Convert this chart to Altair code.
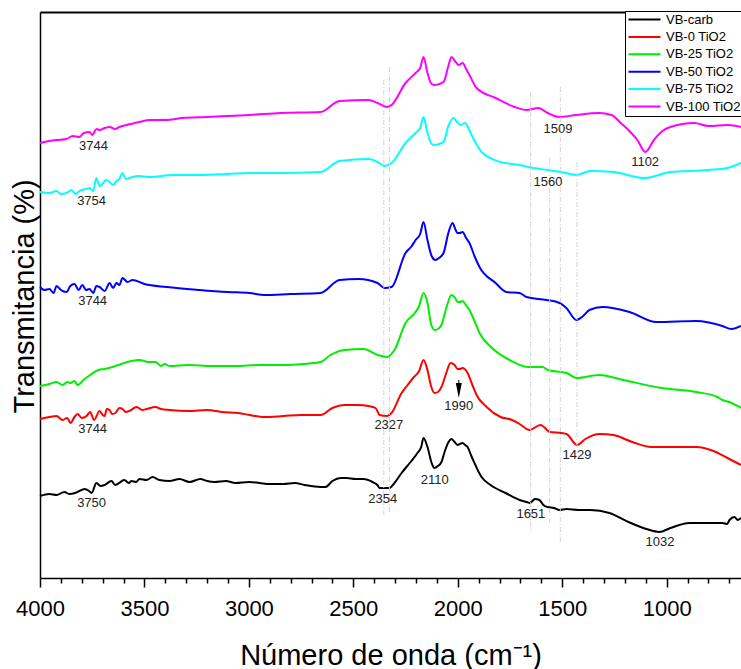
import altair as alt
import pandas as pd

series = ["VB-carb", "VB-0 TiO2", "VB-25 TiO2", "VB-50 TiO2", "VB-75 TiO2", "VB-100 TiO2"]
colors = ["#000000", "#ff0000", "#00ee00", "#0000ff", "#00ffff", "#ff00ff"]

carb_wn = [4000, 3955, 3921, 3883, 3860, 3832, 3801, 3787, 3765, 3753, 3730, 3710, 3691, 3658, 3640, 3629,
           3596, 3575, 3562, 3540, 3524, 3490, 3461, 3428, 3380, 3332, 3284, 3232, 3200, 3165, 3110, 3064,
           3000, 2949, 2900, 2834, 2780, 2733, 2657, 2633, 2600, 2560, 2533, 2490, 2451, 2408, 2385, 2374,
           2327, 2303, 2269, 2226, 2193, 2175, 2164, 2145, 2125, 2112, 2095, 2078, 2060, 2044, 2030, 2015,
           2001, 1990, 1977, 1965, 1953, 1935, 1920, 1900, 1886, 1843, 1771, 1704, 1670, 1655, 1630, 1609,
           1590, 1570, 1540, 1513, 1479, 1420, 1365, 1274, 1183, 1097, 1035, 982, 891, 800, 733, 710,
           699, 675, 660, 644]
carb_t = [82, 84, 83, 86, 84, 85, 88, 89, 87, 85, 95, 92, 93, 97, 93, 94,
          98, 95, 97, 96, 99, 98, 101, 98, 97, 99, 96, 99, 97, 96, 97, 95,
          96, 95, 94, 94, 95, 93, 91, 91, 97, 100, 100, 99, 99, 96, 93, 90,
          90, 95, 105, 116, 125, 131, 140, 131, 115, 110, 112, 116, 128, 136, 139, 136,
          133, 134, 135, 133, 131, 122, 115, 106, 101, 93, 85, 78, 76, 75, 79, 78,
          73, 71, 70, 68, 69, 68, 68, 65, 56, 49, 46, 50, 55, 55, 55, 54,
          58, 61, 58, 60]

tio0_wn = [4000, 3955, 3921, 3892, 3870, 3854, 3835, 3820, 3800, 3777, 3760, 3741, 3715, 3700, 3691, 3680,
           3667, 3655, 3639, 3620, 3605, 3590, 3572, 3538, 3510, 3490, 3447, 3420, 3380, 3289, 3200, 3131,
           3050, 2997, 2925, 2834, 2750, 2657, 2600, 2542, 2480, 2427, 2394, 2374, 2339, 2317, 2269, 2240,
           2214, 2185, 2164, 2145, 2128, 2111, 2095, 2078, 2055, 2035, 2015, 2001, 1990, 1977, 1953, 1930,
           1910, 1862, 1795, 1740, 1704, 1657, 1604, 1558, 1503, 1479, 1429, 1389, 1322, 1255, 1164, 1073,
           982, 857, 776, 709, 644]
tio0_t = [159, 161, 162, 158, 160, 155, 161, 164, 160, 162, 166, 158, 167, 163, 162, 169,
          168, 164, 165, 170, 169, 166, 167, 171, 168, 169, 171, 169, 168, 167, 168, 166,
          165, 163, 161, 162, 163, 163, 170, 173, 173, 172, 170, 163, 162, 165, 185, 193,
          200, 207, 218, 208, 192, 185, 186, 191, 205, 215, 213, 209, 209, 210, 205, 193,
          183, 171, 161, 158, 154, 148, 153, 146, 145, 144, 133, 139, 144, 143, 136, 131,
          131, 131, 127, 120, 113]

tio25_wn = [4000, 3955, 3921, 3892, 3870, 3854, 3835, 3820, 3787, 3760, 3720, 3690, 3653, 3610, 3562, 3524,
            3480, 3447, 3420, 3404, 3380, 3289, 3180, 3064, 2950, 2834, 2740, 2657, 2609, 2542, 2451, 2384,
            2339, 2303, 2250, 2202, 2185, 2164, 2145, 2128, 2111, 2095, 2078, 2055, 2030, 2012, 2001, 1990,
            1977, 1965, 1944, 1920, 1896, 1841, 1752, 1661, 1594, 1570, 1479, 1432, 1322, 1207, 1025, 857,
            757, 733, 700, 644]
tio25_t = [192, 194, 196, 193, 196, 195, 197, 193, 199, 203, 208, 209, 211, 214, 217, 218,
           216, 216, 212, 214, 212, 213, 212, 212, 213, 213, 214, 216, 223, 228, 229, 223,
           221, 228, 255, 266, 272, 285, 275, 254, 248, 249, 253, 270, 283, 280, 276, 276,
           277, 274, 268, 257, 245, 231, 218, 211, 211, 208, 205, 200, 203, 198, 190, 186,
           181, 178, 176, 170]

tio50_wn = [4000, 3980, 3955, 3935, 3921, 3900, 3873, 3855, 3835, 3815, 3797, 3780, 3763, 3745, 3730, 3715,
            3690, 3667, 3650, 3634, 3620, 3605, 3581, 3557, 3500, 3394, 3236, 3100, 2997, 2925, 2800, 2657,
            2566, 2475, 2384, 2351, 2317, 2250, 2220, 2202, 2180, 2164, 2145, 2125, 2107, 2090, 2068, 2045,
            2025, 2010, 2001, 1990, 1977, 1960, 1944, 1920, 1896, 1819, 1767, 1704, 1671, 1575, 1513, 1480,
            1432, 1400, 1370, 1307, 1178, 1049, 857, 733, 690, 644]
tio50_t = [291, 288, 289, 285, 292, 288, 286, 292, 294, 288, 293, 288, 289, 285, 292, 291,
           287, 295, 290, 295, 293, 300, 296, 298, 294, 291, 288, 286, 285, 283, 284, 285,
           298, 299, 295, 290, 291, 325, 332, 338, 344, 356, 338, 322, 318, 320, 325, 345,
           355, 348, 345, 345, 346, 340, 335, 322, 311, 295, 286, 285, 281, 278, 275, 270,
           258, 262, 268, 271, 266, 256, 257, 252, 249, 252]

tio75_wn = [4000, 3955, 3921, 3900, 3873, 3849, 3830, 3811, 3780, 3763, 3745, 3730, 3715, 3701, 3685, 3667,
            3650, 3634, 3620, 3605, 3590, 3572, 3530, 3476, 3360, 3236, 3100, 2997, 2850, 2657, 2566, 2427,
            2384, 2351, 2317, 2250, 2202, 2180, 2164, 2145, 2125, 2111, 2090, 2068, 2045, 2020, 2000, 1987,
            1965, 1945, 1929, 1886, 1795, 1704, 1637, 1570, 1503, 1432, 1365, 1255, 1106, 982, 800, 709,
            644]
tio75_t = [386, 385, 387, 384, 385, 388, 384, 387, 389, 390, 387, 400, 392, 394, 398, 396,
           393, 397, 399, 405, 399, 400, 402, 401, 403, 403, 404, 405, 405, 406, 417, 419,
           416, 412, 415, 435, 445, 450, 461, 445, 434, 433, 434, 436, 452, 460, 455, 453,
           455, 448, 441, 426, 416, 413, 410, 408, 406, 403, 407, 406, 400, 406, 408, 410,
           415]

tio100_wn = [4000, 3955, 3921, 3873, 3844, 3811, 3790, 3763, 3749, 3730, 3715, 3690, 3667, 3640, 3620, 3586,
             3524, 3476, 3400, 3318, 3200, 3100, 2997, 2850, 2657, 2566, 2427, 2384, 2339, 2317, 2250, 2202,
             2180, 2164, 2145, 2125, 2111, 2090, 2068, 2045, 2030, 2010, 1996, 1977, 1960, 1944, 1910, 1819,
             1728, 1671, 1614, 1570, 1513, 1434, 1322, 1264, 1220, 1183, 1140, 1102, 1061, 1020, 982, 867,
             800, 709, 644]
tio100_t = [435, 437, 438, 439, 442, 441, 445, 446, 443, 449, 448, 450, 451, 449, 451, 453,
            456, 458, 458, 460, 461, 462, 463, 465, 466, 477, 478, 475, 471, 473, 495, 505,
            510, 521, 505, 494, 493, 494, 496, 512, 521, 516, 513, 515, 509, 503, 490, 480,
            471, 468, 470, 465, 461, 463, 465, 463, 455, 448, 438, 426, 438, 447, 451, 455,
            452, 453, 451]

# reference (dashed) lines
ref_wn = [2354, 2327, 1651, 1560, 1509, 1429]
ref_top = [498, 511, 486, 420, 491, 416]
ref_bottom = [61, 65, 48, 55, 36, 131]

# peak labels
ann_text = ["3744", "3754", "3744", "3744", "3750", "2354", "2327", "2110", "1990",
            "1651", "1429", "1032", "1509", "1102", "1560"]
ann_wn = [3744, 3753, 3748, 3748, 3753, 2359, 2330, 2110, 1995,
          1650, 1429, 1032, 1520, 1103, 1568]
ann_t = [432, 377, 277, 149, 75, 79, 153, 98, 172,
         64, 123, 36, 449, 416, 396]

arrow_wn = [1995]
arrow_stem_top = [198]
arrow_stem_bottom = [192]
arrow_head = [187.5]

all_wn = [carb_wn, tio0_wn, tio25_wn, tio50_wn, tio75_wn, tio100_wn]
all_t = [carb_t, tio0_t, tio25_t, tio50_t, tio75_t, tio100_t]

rows = []
for name, wns, ts in zip(series, all_wn, all_t):
    for w, v in zip(wns, ts):
        rows.append({"serie": name, "wn": w, "t": v})
df = pd.DataFrame(rows)
df_ref = pd.DataFrame({"wn": ref_wn, "top": ref_top, "bottom": ref_bottom})
df_ann = pd.DataFrame({"wn": ann_wn, "t": ann_t, "text": ann_text})
df_arrow = pd.DataFrame({"wn": arrow_wn, "top": arrow_stem_top, "bottom": arrow_stem_bottom, "head": arrow_head})

FONT = "Liberation Sans"
x_scale = alt.Scale(domain=[644, 4000], reverse=True, nice=False, zero=False)
y_scale = alt.Scale(domain=[0, 566], nice=False, zero=False)

x_axis = alt.Axis(
    values=list(range(4000, 600, -100)),
    format="d",
    labelExpr="datum.value % 500 === 0 ? datum.label : ''",
    labelFont=FONT, labelFontSize=22, labelColor="black", labelPadding=11,
    labelFlush=False, labelOverlap=False,
    tickColor="black", tickWidth=1.5,
    tickSize={"condition": {"test": "datum.value % 500 === 0", "value": 9}, "value": 5},
    domainColor="black", domainWidth=1.5, grid=False,
    title="Número de onda (cm⁻¹)", titleFont=FONT, titleFontSize=29, titleFontWeight="normal",
    titleColor="black", titleY=86, titleBaseline="alphabetic",
)
y_axis = alt.Axis(
    labels=False, ticks=False, grid=False, domainColor="black", domainWidth=1.5,
    title="Transmitancia (%)", titleFont=FONT, titleFontSize=29, titleFontWeight="normal",
    titleColor="black", titleX=-7, titleY=401, titleAlign="left", titleBaseline="alphabetic",
)

lines = alt.Chart(df).mark_line(strokeWidth=2, interpolate="monotone").encode(
    x=alt.X("wn:Q", scale=x_scale, axis=x_axis),
    y=alt.Y("t:Q", scale=y_scale, axis=y_axis),
    color=alt.Color(
        "serie:N",
        scale=alt.Scale(domain=series, range=colors),
        sort=series,
        legend=alt.Legend(
            orient="none", legendX=585, legendY=-1, title=None,
            symbolType="M-4,0L4,0", symbolSize=64, symbolStrokeWidth=2,
            labelFont=FONT, labelFontSize=13, labelColor="black",
            strokeColor="black", fillColor="white", padding=2,
            rowPadding=3.4, symbolOffset=11, labelOffset=15,
        ),
    ),
)

refs = alt.Chart(df_ref).mark_rule(color="#d2d2d2", strokeWidth=1, strokeDash=[5, 2, 1, 2]).encode(
    x=alt.X("wn:Q", scale=x_scale,
            axis=alt.Axis(orient="top", labels=False, ticks=False, grid=False,
                          domainColor="black", domainWidth=2, title=None)),
    y=alt.Y("top:Q", scale=y_scale, axis=None),
    y2="bottom:Q",
)

ann = alt.Chart(df_ann).mark_text(font=FONT, fontSize=13, color="#222222", align="center",
                                  baseline="middle").encode(
    x=alt.X("wn:Q", scale=x_scale, axis=None),
    y=alt.Y("t:Q", scale=y_scale, axis=None),
    text="text:N",
)

stem = alt.Chart(df_arrow).mark_rule(color="black", strokeWidth=1).encode(
    x=alt.X("wn:Q", scale=x_scale, axis=None),
    y=alt.Y("top:Q", scale=y_scale, axis=None),
    y2="bottom:Q",
)
head = alt.Chart(df_arrow).mark_point(shape="M-0.4,-1L0.4,-1L0,1Z", filled=True, color="black",
                                      opacity=1, size=225).encode(
    x=alt.X("wn:Q", scale=x_scale, axis=None),
    y=alt.Y("head:Q", scale=y_scale, axis=None),
)

chart = alt.layer(lines, refs, ann, stem, head).resolve_axis(x="independent", y="independent").properties(
    width=701, height=566,
    autosize=alt.AutoSizeParams(type="none"),
    padding={"left": 40, "right": 0, "top": 12, "bottom": 91},
    background="white",
).configure_view(stroke=None)

chart.save("out.html", embed_options={"renderer": "svg", "actions": False})
